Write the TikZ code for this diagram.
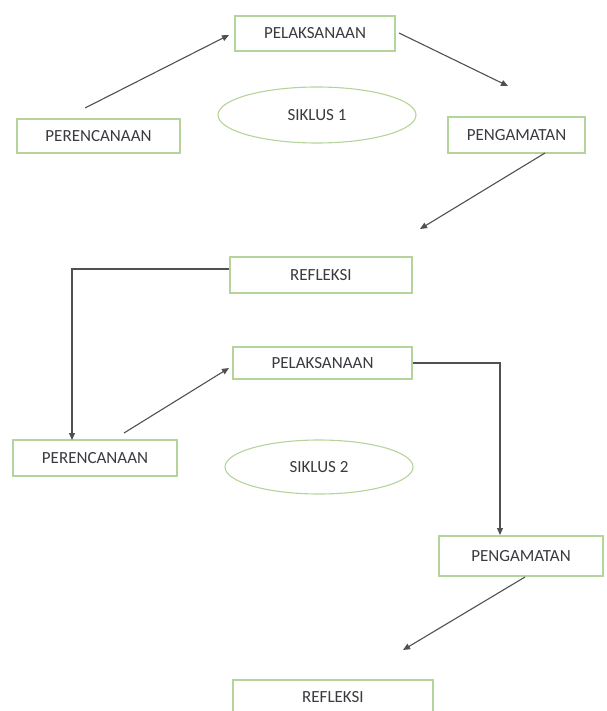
\documentclass[tikz,border=0pt]{standalone}
\usepackage{fontspec}
\setmainfont{Carlito}
\usetikzlibrary{arrows.meta,shapes.geometric}
\definecolor{boxgreen}{RGB}{180,212,155}
\definecolor{ink}{RGB}{58,58,64}
\definecolor{arrowgray}{RGB}{80,80,80}
\tikzset{
  stage/.style={draw=boxgreen, line width=1.1pt, fill=white, inner sep=0pt,
    font=\fontsize{17}{20}\selectfont, text=ink},
  cyc/.style={ellipse, draw=boxgreen, line width=1.1pt, inner sep=0pt,
    font=\fontsize{17}{20}\selectfont, text=ink},
  conn/.style={draw=arrowgray, line width=1.1pt, -{Triangle[length=7pt,width=6pt]}},
}
\begin{document}
\begin{tikzpicture}[x=1pt,y=-1pt]
\useasboundingbox (0,0) rectangle (606,711);
\clip (0,0) rectangle (606,711);
% cycle 1
\node[stage, minimum width=160pt, minimum height=35pt] (pel1) at (315,33.5) {PELAKSANAAN};
\node[stage, minimum width=163pt, minimum height=34pt] (per1) at (98.5,136) {PERENCANAAN};
\node[stage, minimum width=137pt, minimum height=36pt] (peng1) at (516.5,135) {PENGAMATAN};
\node[cyc, minimum width=198pt, minimum height=56pt] (sik1) at (317,115) {SIKLUS 1};
\node[stage, minimum width=182pt, minimum height=36pt] (ref1) at (321,275) {REFLEKSI};
% cycle 2
\node[stage, minimum width=179pt, minimum height=32pt] (pel2) at (322.5,363) {PELAKSANAAN};
\node[stage, minimum width=164pt, minimum height=36pt] (per2) at (95,458) {PERENCANAAN};
\node[cyc, minimum width=188pt, minimum height=54pt] (sik2) at (319,467) {SIKLUS 2};
\node[stage, minimum width=164pt, minimum height=40pt] (peng2) at (521,556) {PENGAMATAN};
\node[stage, minimum width=200pt, minimum height=34pt] (ref2) at (333,697) {REFLEKSI};
% free ends
\coordinate (c1s) at (85,108);
\coordinate (c1e) at (229,35);
\coordinate (c2s) at (399,33);
\coordinate (c2e) at (508,86);
\coordinate (c3s) at (545,153);
\coordinate (c3e) at (420,229);
\coordinate (c4e) at (72,440);
\coordinate (c5s) at (124,433);
\coordinate (c5e) at (229,368);
\coordinate (c6e) at (500,535);
\coordinate (c7s) at (525,577);
\coordinate (c7e) at (403,650);
% connectors
\draw[conn] (c1s) -- (c1e);
\draw[conn] (c2s) -- (c2e);
\draw[conn] (c3s) -- (c3e);
\draw[conn] ([yshift=6pt]ref1.west) -| (c4e);
\draw[conn] (c5s) -- (c5e);
\draw[conn] (pel2.east) -| (c6e);
\draw[conn] (c7s) -- (c7e);
\end{tikzpicture}
\end{document}
